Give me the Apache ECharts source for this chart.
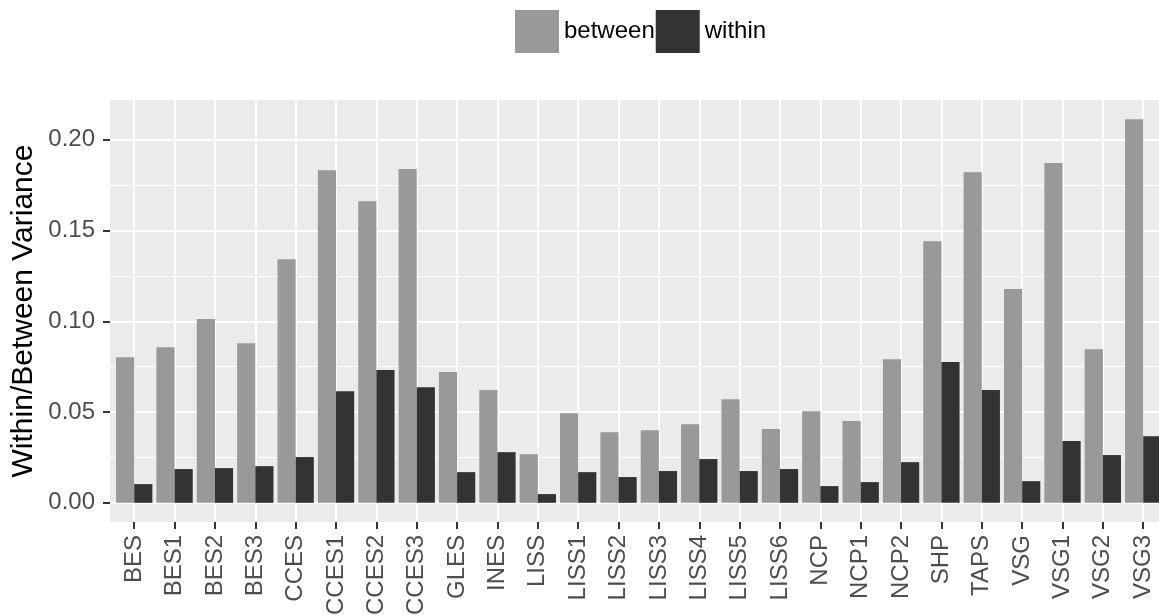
<!DOCTYPE html>
<html>
<head>
<meta charset="utf-8">
<script src="https://cdn.jsdelivr.net/npm/echarts@6/dist/echarts.min.js"></script>
<style>
html,body{margin:0;padding:0;background:#fff;}
#chart{width:1159px;height:615px;}
</style>
</head>
<body>
<div id="chart"></div>
<script>
const categories = ['BES','BES1','BES2','BES3','CCES','CCES1','CCES2','CCES3','GLES','INES','LISS','LISS1','LISS2','LISS3','LISS4','LISS5','LISS6','NCP','NCP1','NCP2','SHP','TAPS','VSG','VSG1','VSG2','VSG3'];
const betweenVals = [0.0802,0.0857,0.1012,0.0879,0.1342,0.1832,0.1661,0.1838,0.0720,0.0621,0.0268,0.0494,0.0389,0.0400,0.0433,0.0571,0.0406,0.0505,0.0450,0.0791,0.1441,0.1821,0.1177,0.1871,0.0846,0.2113];
const withinVals  = [0.0103,0.0186,0.0191,0.0202,0.0252,0.0615,0.0731,0.0637,0.0169,0.0279,0.0048,0.0169,0.0142,0.0175,0.0241,0.0175,0.0186,0.0092,0.0114,0.0224,0.0775,0.0621,0.0119,0.0340,0.0263,0.0367];
const seriesNames = ['between','within'];
const yTickMin = 0, yTickMax = 0.20, yTickStep = 0.05;
const yTitle = 'Within/Between Variance';

const FONT = '"Liberation Sans", Arial, Helvetica, sans-serif';
// layout (panel extends slightly past the right edge of the picture, as in the reference)
const band = 40.36;
const nCat = categories.length;
const panelLeft = 110;
const panelWidth = (nCat - 1 + 1.2) * band;
const barsLeft = panelLeft + 0.1 * band;
const barsWidth = nCat * band;
const panel = {top:100, bottom:93};
const panelH = 615 - panel.top - panel.bottom;
const dMax = Math.max(...betweenVals, ...withinVals);
const yMin = -0.05 * dMax, yMax = 1.05 * dMax;
const ppu = panelH / (yMax - yMin);
const gridCTop = panel.top + (yMax - yTickMax) * ppu;
const gridCBottom = panel.bottom + (yTickMin - yMin) * ppu;

const chart = echarts.init(document.getElementById('chart'), null, {renderer:'canvas'});
chart.setOption({
  animation: false,
  textStyle: {fontFamily: FONT},
  legend: {
    data: seriesNames,
    left: 515, top: 10, padding: 0,
    itemWidth: 44, itemHeight: 43, itemGap: 1,
    icon: 'rect',
    textStyle: {fontSize: 24, color: '#000', fontFamily: FONT},
    selectedMode: false
  },
  grid: [
    {left: panelLeft, width: panelWidth, top: panel.top, bottom: panel.bottom, show: true, backgroundColor: '#EBEBEB', borderWidth: 0, containLabel: false, outerBoundsMode: 'none'},
    {left: barsLeft, width: barsWidth, top: panel.top, bottom: panel.bottom, containLabel: false, outerBoundsMode: 'none'},
    {left: panelLeft, width: panelWidth, top: gridCTop, bottom: gridCBottom, containLabel: false, outerBoundsMode: 'none'}
  ],
  xAxis: [
    {gridIndex: 0, type: 'value', show: false, min: 0, max: 1},
    {gridIndex: 1, type: 'category', data: categories, position: 'bottom',
     axisLine: {show: false, onZero: false},
     axisTick: {show: true, alignWithLabel: true, interval: 0, length: 7, lineStyle: {color: '#333333', width: 2}},
     axisLabel: {show: true, interval: 0, rotate: 90, fontSize: 24, color: '#4D4D4D', margin: 13, fontFamily: FONT},
     splitLine: {show: true, alignWithLabel: true, interval: 0, lineStyle: {color: '#FFFFFF', width: 2}}
    },
    {gridIndex: 2, type: 'value', show: false, min: 0, max: 1}
  ],
  yAxis: [
    {gridIndex: 0, type: 'value', min: yMin, max: yMax,
     axisLine: {show: false, onZero: false}, axisTick: {show: false}, axisLabel: {show: false}, splitLine: {show: false},
     name: yTitle, nameLocation: 'middle', nameGap: 71,
     nameTextStyle: {fontSize: 30, color: '#000', fontFamily: FONT}
    },
    {gridIndex: 1, type: 'value', min: yMin, max: yMax, show: false, splitLine: {show: false}},
    {gridIndex: 2, type: 'value', min: yTickMin, max: yTickMax, interval: yTickStep,
     axisLine: {show: false, onZero: false},
     axisTick: {show: true, length: 7, lineStyle: {color: '#333333', width: 2}},
     axisLabel: {fontSize: 24, color: '#4D4D4D', margin: 15, fontFamily: FONT, formatter: v => v.toFixed(2)},
     splitLine: {show: true, lineStyle: {color: '#FFFFFF', width: 2}},
     minorTick: {show: false, splitNumber: 2},
     minorSplitLine: {show: true, lineStyle: {color: '#FFFFFF', width: 1}}
    }
  ],
  series: [
    {name: seriesNames[0], type: 'bar', xAxisIndex: 1, yAxisIndex: 1, data: betweenVals,
     barWidth: '45%', barGap: '0%', itemStyle: {color: '#999999'}, emphasis: {disabled: true}},
    {name: seriesNames[1], type: 'bar', xAxisIndex: 1, yAxisIndex: 1, data: withinVals,
     barWidth: '45%', barGap: '0%', itemStyle: {color: '#333333'}, emphasis: {disabled: true}}
  ]
});
</script>
</body>
</html>
